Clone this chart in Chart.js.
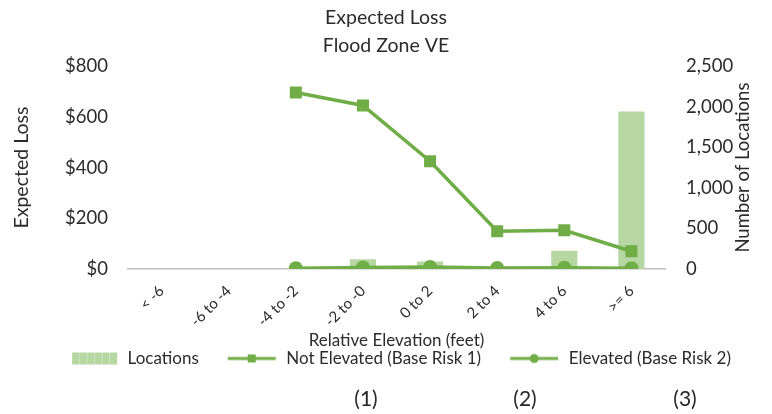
<!DOCTYPE html>
<html>
<head>
<meta charset="utf-8">
<script src="https://cdn.jsdelivr.net/npm/chart.js@4.4.1/dist/chart.umd.min.js"></script>
<style>
  html, body { margin: 0; padding: 0; background: #ffffff; }
  #wrap { position: relative; width: 772px; height: 414px; }
  #c { position: absolute; left: 0; top: 0; }
  .note { position: absolute; top: 385px; font-family: Lato, sans-serif; font-size: 21px; color: #262626; width: 40px; margin-left: -20px; text-align: center; line-height: 26px; }
</style>
</head>
<body>
<div id="wrap">
  <canvas id="c" width="772" height="414"></canvas>
  <div class="note" style="left:366px">(1)</div>
  <div class="note" style="left:525px">(2)</div>
  <div class="note" style="left:685px">(3)</div>
</div>
<script>
// ---- data ----
const categories = ['< -6', '-6 to -4', '-4 to -2', '-2 to -0', '0 to 2', '2 to 4', '4 to 6', '>= 6'];
const locations = [0, 0, 6, 120, 92, 6, 225, 1940];
const notElevated = [null, null, 696, 645, 425, 149, 153, 70];
const elevated = [null, null, 3, 6, 8, 4, 5, 3];
const lossTicks = [0, 200, 400, 600, 800];
const countTicks = [0, 500, 1000, 1500, 2000, 2500];
const titleLines = ['Expected Loss', 'Flood Zone VE'];

const GREEN = '#70ad47';
const BAR = '#b6d7a1';
const TXT = '#2b2b2b';
const FONT = 'Lato, sans-serif';

function legendImg(kind) {
  const c = document.createElement('canvas');
  c.width = 78; c.height = 16;
  const g = c.getContext('2d');
  if (kind === 'bar') {
    g.fillStyle = BAR;
    g.fillRect(31, 2, 45, 12);
    g.strokeStyle = '#cfe5c0';
    g.lineWidth = 1;
    for (let x = 38.5; x < 76; x += 7.5) {
      g.beginPath(); g.moveTo(x, 2); g.lineTo(x, 14); g.stroke();
    }
  } else {
    g.strokeStyle = GREEN;
    g.lineWidth = 3;
    g.beginPath(); g.moveTo(28, 8); g.lineTo(76, 8); g.stroke();
    g.fillStyle = GREEN;
    if (kind === 'rect') {
      g.fillRect(48, 4, 8, 8);
    } else {
      g.beginPath(); g.arc(52, 8, 4.5, 0, Math.PI * 2); g.fill();
    }
  }
  return c;
}
const legendImgs = [legendImg('bar'), legendImg('rect'), legendImg('circle')];

const rightTitle = {
  id: 'rightTitle',
  afterDraw(chart) {
    const ctx = chart.ctx;
    const a = chart.chartArea;
    ctx.save();
    ctx.translate(743, (a.top + a.bottom) / 2);
    ctx.rotate(-Math.PI / 2);
    ctx.font = '18.5px ' + FONT;
    ctx.fillStyle = TXT;
    ctx.textAlign = 'center';
    ctx.textBaseline = 'middle';
    ctx.fillText('Number of Locations', 0, 0);
    ctx.restore();
  }
};

new Chart(document.getElementById('c'), {
  data: {
    labels: categories,
    datasets: [
      {
        type: 'line', label: 'Not Elevated (Base Risk 1)', data: notElevated, yAxisID: 'yLoss',
        borderColor: GREEN, backgroundColor: GREEN, borderWidth: 3.5,
        pointStyle: 'rect', pointRadius: 8.5, pointHoverRadius: 8.5, pointBorderWidth: 0,
        order: 1, spanGaps: false
      },
      {
        type: 'line', label: 'Elevated (Base Risk 2)', data: elevated, yAxisID: 'yLoss',
        borderColor: GREEN, backgroundColor: GREEN, borderWidth: 3.5,
        pointStyle: 'circle', pointRadius: 7, pointHoverRadius: 7, pointBorderWidth: 0,
        order: 2
      },
      {
        type: 'bar', label: 'Locations', data: locations, yAxisID: 'yCount',
        backgroundColor: BAR, borderWidth: 0,
        barPercentage: 0.39, categoryPercentage: 1.0,
        order: 3
      }
    ]
  },
  options: {
    responsive: false,
    animation: false,
    events: [],
    layout: { padding: { left: 6, right: 6, top: 4, bottom: 37 } },
    plugins: {
      tooltip: { enabled: false },
      title: {
        display: true, text: titleLines, color: TXT,
        font: { family: FONT, size: 19.5, weight: 'normal', lineHeight: 1.44 },
        padding: { top: 0, bottom: 6 }
      },
      legend: {
        position: 'bottom', align: 'center',
        labels: {
          usePointStyle: true, pointStyleWidth: 78, padding: 1,
          color: TXT, font: { family: FONT, size: 17 },
          generateLabels: () => [
            { text: 'Locations', pointStyle: legendImgs[0], fillStyle: BAR, strokeStyle: BAR, lineWidth: 0, hidden: false, datasetIndex: 2, fontColor: TXT },
            { text: 'Not Elevated (Base Risk 1)', pointStyle: legendImgs[1], fillStyle: GREEN, strokeStyle: GREEN, lineWidth: 0, hidden: false, datasetIndex: 0, fontColor: TXT },
            { text: 'Elevated (Base Risk 2)', pointStyle: legendImgs[2], fillStyle: GREEN, strokeStyle: GREEN, lineWidth: 0, hidden: false, datasetIndex: 1, fontColor: TXT }
          ]
        }
      }
    },
    scales: {
      x: {
        type: 'category', offset: true,
        grid: { display: false, drawTicks: false },
        border: { display: true, color: '#bfbfbf', width: 1.5 },
        ticks: { color: TXT, font: { family: FONT, size: 15 }, minRotation: 45, maxRotation: 45, padding: 13, autoSkip: false },
        title: { display: true, text: 'Relative Elevation (feet)', color: TXT, font: { family: FONT, size: 17, lineHeight: 1 }, padding: { top: 0, bottom: 0 } },
        afterFit(s) { s.height = 80; }
      },
      yLoss: {
        type: 'linear', position: 'left', min: 0, max: 800,
        afterBuildTicks(s) { s.ticks = lossTicks.map(v => ({ value: v })); },
        grid: { display: false, drawTicks: false },
        border: { display: false },
        ticks: { color: TXT, font: { family: FONT, size: 18.5 }, padding: 20, callback: v => '$' + v },
        title: { display: true, text: 'Expected Loss', color: TXT, font: { family: FONT, size: 19.5 }, padding: { top: 4, bottom: 0 } },
        afterFit(s) { s.width = 122; }
      },
      yCount: {
        type: 'linear', position: 'right', min: 0, max: 2500,
        afterBuildTicks(s) { s.ticks = countTicks.map(v => ({ value: v })); },
        grid: { display: false, drawTicks: false },
        border: { display: false },
        ticks: { color: TXT, font: { family: FONT, size: 18.5 }, padding: 21, callback: v => v.toLocaleString('en-US') },
        afterFit(s) { s.width = 101; }
      }
    }
  },
  plugins: [rightTitle]
});
</script>
</body>
</html>
